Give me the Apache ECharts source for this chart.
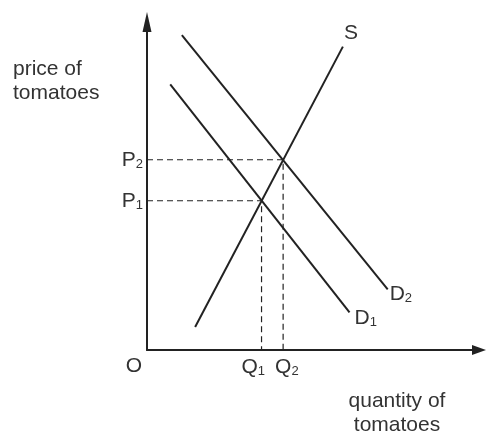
<!DOCTYPE html>
<html>
<head>
<meta charset="utf-8">
<script src="https://cdn.jsdelivr.net/npm/echarts@6/dist/echarts.min.js"></script>
<style>
  html, body { margin: 0; padding: 0; background: #fff; }
  #chart { width: 486px; height: 434px; }
</style>
</head>
<body>
<div id="chart"></div>
<script>
// 曲线端点 [数量, 价格]
var supplyS = [[14.5, 7], [59, 92.5]];
var demandD1 = [[7, 81], [61, 11.5]];
var demandD2 = [[10.5, 96], [72.5, 18.5]];

// 均衡点
var priceTicks = [45.5, 58];
var priceNames = ['1', '2'];
var quantityTicks = [34.5, 41];
var quantityNames = ['1', '2'];

var ink = '#222';
var txt = '#333';
var font = 'Liberation Sans, Arial, sans-serif';

var rich = {
    m: { fontSize: 21, lineHeight: 22, color: txt, fontFamily: font },
    s: { fontSize: 13, lineHeight: 14, verticalAlign: 'bottom', color: txt, fontFamily: font }
};

function endLabel(letter, sub, off) {
    return {
        show: true,
        distance: 0,
        offset: off,
        formatter: sub ? '{m|' + letter + '}{s|' + sub + '}' : '{m|' + letter + '}',
        rich: rich
    };
}

function curve(pts, label) {
    return {
        type: 'line',
        showSymbol: false,
        symbol: 'none',
        silent: true,
        lineStyle: { color: ink, width: 2 },
        endLabel: label,
        data: pts
    };
}

// 虚线从 P 到均衡点再到 Q，Q 标签挂在末端
function dashed(q, p, label) {
    return {
        type: 'line',
        showSymbol: false,
        symbol: 'none',
        silent: true,
        lineStyle: { color: ink, width: 1.2, type: [6, 4] },
        endLabel: label,
        data: [[0, p], [q, p], [q, 0]]
    };
}

var myChart = echarts.init(document.getElementById('chart'));

var option = {
    animation: false,
    grid: { left: 147, right: 7, top: 22, bottom: 84, containLabel: false },
    xAxis: {
        type: 'value',
        min: 0,
        max: 100,
        splitLine: { show: false },
        axisTick: { show: false },
        axisLabel: { show: false },
        axisLine: {
            lineStyle: { color: ink, width: 2 },
            symbol: ['none', 'triangle'],
            symbolSize: [10, 14]
        }
    },
    yAxis: {
        type: 'value',
        min: 0,
        max: 100,
        splitLine: { show: false },
        axisTick: { show: false },
        axisLine: {
            lineStyle: { color: ink, width: 2 },
            symbol: ['none', 'triangle'],
            symbolSize: [9, 20]
        },
        axisLabel: {
            customValues: priceTicks,
            hideOverlap: false,
            margin: 4,
            formatter: function (v) {
                var i = priceTicks.indexOf(v);
                return '{m|P}{s|' + priceNames[i] + '}';
            },
            rich: rich
        }
    },
    graphic: [
        {
            type: 'text', x: 13, y: 57,
            style: { text: 'price of\ntomatoes', font: '21px ' + font, fill: txt, lineHeight: 24, textAlign: 'left', textVerticalAlign: 'top' }
        },
        {
            type: 'text', x: 397, y: 389,
            style: { text: 'quantity of\ntomatoes', font: '21px ' + font, fill: txt, lineHeight: 24, textAlign: 'center', textVerticalAlign: 'top' }
        },
        {
            type: 'text', x: 134, y: 366,
            style: { text: 'O', font: '21px ' + font, fill: txt, textAlign: 'center', textVerticalAlign: 'middle' }
        }
    ],
    series: [
        dashed(quantityTicks[0], priceTicks[0], endLabel('Q', quantityNames[0], [-20, 17])),
        dashed(quantityTicks[1], priceTicks[1], endLabel('Q', quantityNames[1], [-8, 17])),
        curve(supplyS, endLabel('S', '', [1, -13])),
        curve(demandD1, endLabel('D', '1', [5, 6])),
        curve(demandD2, endLabel('D', '2', [2, 5]))
    ]
};

myChart.setOption(option);
</script>
</body>
</html>
